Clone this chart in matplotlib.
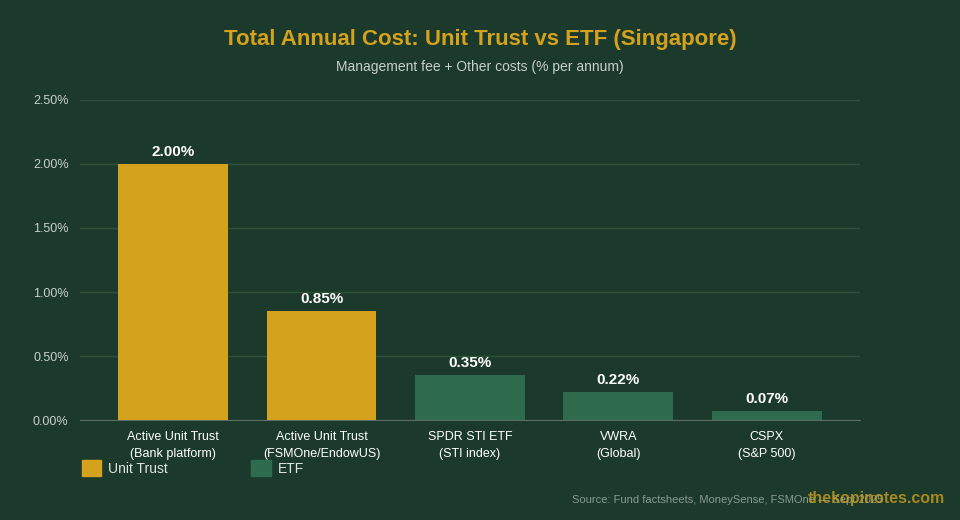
import matplotlib.pyplot as plt
from matplotlib.patches import Patch

# Data
labels = ['Active Unit Trust\n(Bank platform)', 'Active Unit Trust\n(FSMOne/EndowUS)',
          'SPDR STI ETF\n(STI index)', 'VWRA\n(Global)', 'CSPX\n(S&P 500)']
costs = [2.00, 0.85, 0.35, 0.22, 0.07]
kinds = ['Unit Trust', 'Unit Trust', 'ETF', 'ETF', 'ETF']
yticks = [0, 0.5, 1.0, 1.5, 2.0, 2.5]

bg = '#1b3a2b'
gold = '#d4a21c'
green = '#2e6b4f'
colors = [gold if k == 'Unit Trust' else green for k in kinds]

plt.rcParams['font.family'] = ['Liberation Sans', 'DejaVu Sans']
fig = plt.figure(figsize=(9.6, 5.2), dpi=100, facecolor=bg)
ax = fig.add_axes([0.083, 0.192, 0.813, 0.616], facecolor=bg)

x = range(len(costs))
ax.bar(x, costs, width=0.74, color=colors, zorder=3)
for xi, v in zip(x, costs):
    ax.text(xi, v + 0.04, f'{v:.2f}%', ha='center', va='bottom', color='white',
            fontsize=11, fontweight='bold')

ax.set_xlim(-0.63, len(costs) - 0.37)
ax.set_ylim(0, 2.5)
ax.set_yticks(yticks)
ax.set_yticklabels([f'{t:.2f}%' for t in yticks], color='#c8d0cb', fontsize=9)
ax.set_xticks(list(x))
ax.set_xticklabels(labels, color='white', fontsize=9, linespacing=1.5)
ax.tick_params(length=0, pad=8)
ax.grid(axis='y', color='#2f4f3d', linewidth=1, zorder=0)
for s in ['top', 'right', 'left']:
    ax.spines[s].set_visible(False)
ax.spines['bottom'].set_color('#5a6e62')

fig.text(0.5, 0.913, 'Total Annual Cost: Unit Trust vs ETF (Singapore)', ha='center',
         color=gold, fontsize=16, fontweight='bold')
fig.text(0.5, 0.864, 'Management fee + Other costs (% per annum)', ha='center',
         color='#c8d0cb', fontsize=10)

handles = [Patch(color=gold, label='Unit Trust'), Patch(color=green, label='ETF')]
fig.legend(handles=handles, loc='lower left', bbox_to_anchor=(0.072, 0.06), ncol=2,
           frameon=False, labelcolor='#dfe5e1', fontsize=10, handlelength=1.4,
           handleheight=1.4, columnspacing=6, handletextpad=0.5)

fig.text(0.596, 0.033, 'Source: Fund factsheets, MoneySense, FSMOne \u2014 Sept 2025',
         color='#8a9a90', fontsize=8)
fig.text(0.984, 0.033, 'thekopinotes.com', ha='right', color=gold, fontsize=11.5,
         fontweight='bold', alpha=0.75)

fig.savefig('out.png', dpi=100, facecolor=bg)
